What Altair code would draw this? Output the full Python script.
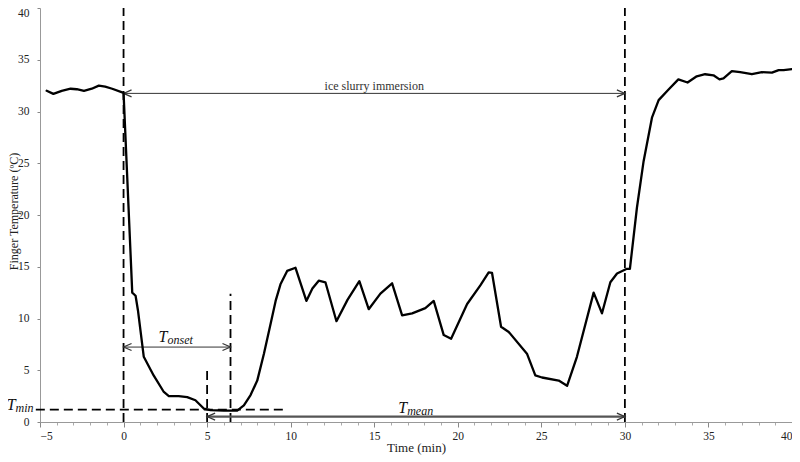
import altair as alt
import pandas as pd

# ---- finger temperature curve (time in min, temperature in degC) ----
time_min = [-4.6, -4.2, -3.7, -3.17, -2.8, -2.37, -1.9, -1.48, -1.1, -0.68, 0.0,
            0.52, 0.72, 0.86, 1.21, 1.8, 2.41, 2.71, 3.3, 3.81, 4.3, 4.8, 5.2,
            6.0, 6.8, 7.2, 7.6, 8.0, 8.4, 8.8, 9.1, 9.39, 9.79, 10.29, 10.94,
            11.3, 11.68, 12.08, 12.74, 13.4, 14.11, 14.67, 15.37, 16.07, 16.67,
            17.27, 18.06, 18.56, 19.16, 19.6, 20.56, 21.35, 21.85, 22.05, 22.59,
            23.05, 24.14, 24.64, 25.04, 26.04, 26.54, 27.13, 28.13, 28.63, 29.13,
            29.53, 30.12, 30.3, 30.72, 31.12, 31.62, 32.02, 32.6, 33.2, 33.75,
            34.3, 34.8, 35.3, 35.66, 35.9, 36.4, 36.9, 37.6, 38.2, 38.8, 39.2,
            39.5, 40.0]
finger_temp = [32.0, 31.7, 32.0, 32.2, 32.15, 32.0, 32.2, 32.5, 32.4, 32.2, 31.8,
               12.5, 12.2, 10.8, 6.3, 4.5, 2.9, 2.5, 2.5, 2.4, 2.1, 1.3, 1.15,
               1.1, 1.1, 1.6, 2.6, 4.0, 6.6, 9.5, 11.7, 13.3, 14.6, 14.9, 11.7,
               12.9, 13.65, 13.5, 9.74, 11.8, 13.6, 10.9, 12.4, 13.4, 10.3,
               10.5, 11.0, 11.7, 8.4, 8.05, 11.4, 13.2, 14.45, 14.4, 9.2,
               8.7, 6.6, 4.5, 4.3, 4.0, 3.5, 6.3, 12.5, 10.5, 13.5,
               14.35, 14.8, 14.8, 20.7, 25.2, 29.4, 31.1, 32.1, 33.1, 32.8,
               33.4, 33.6, 33.5, 33.1, 33.2, 33.9, 33.8, 33.6, 33.8, 33.75, 34.0,
               34.0, 34.1]

# ---- annotation values (data units) ----
dash_x1 = [0.0, 30.0, 6.4, 5.0, -5.25]
dash_x2 = [0.0, 30.0, 6.4, 5.0, 9.7]
dash_y1 = [0.0, 0.0, 0.0, 0.0, 1.2]
dash_y2 = [40.0, 40.0, 12.4, 5.3, 1.2]

arrow_names = ["ice", "onset", "mean"]
arrow_x1 = [0.0, 0.0, 5.0]
arrow_x2 = [30.0, 6.4, 30.0]
arrow_y = [31.75, 7.24, 0.52]

label_text = ["ice slurry immersion"]
label_x = [15.0]
label_y = [32.1]

sym_main = ["T", "T", "T"]
sym_sub = ["onset", "min", "mean"]
sym_x = [2.63, -6.46, 16.97]
sym_y = [7.75, 1.2, 0.9]

x_major = list(range(-5, 41, 5))
x_minor = list(range(-5, 41, 1))
y_ticks = list(range(0, 41, 5))

# ---- tables ----
curve = pd.DataFrame({"time": time_min, "temp": finger_temp})
dashes = pd.DataFrame({"x": dash_x1, "x2": dash_x2, "y": dash_y1, "y2": dash_y2})
arrows = pd.DataFrame({"name": arrow_names, "x": arrow_x1, "x2": arrow_x2, "y": arrow_y})
heads = pd.DataFrame({
    "x": arrow_x1 + arrow_x2,
    "y": arrow_y + arrow_y,
    "dir": ["left"] * 3 + ["right"] * 3,
})
labels = pd.DataFrame({"text": label_text, "x": label_x, "y": label_y})
syms = pd.DataFrame({"main": sym_main, "sub": sym_sub, "x": sym_x, "y": sym_y})

FONT = "Liberation Serif"
xscale = alt.Scale(domain=[-5, 40], nice=False, zero=False)
yscale = alt.Scale(domain=[0, 40], nice=False)

LEFT_HEAD = "M1.6,-0.7L0,0L1.6,0.7"
RIGHT_HEAD = "M-1.6,-0.7L0,0L-1.6,0.7"

major_x_axis = alt.Axis(values=x_major, title="Time (min)", grid=False,
                        tickSize=5, tickColor="#888", domainColor="#999",
                        labelFont=FONT, labelFontSize=11.5, labelColor="#222",
                        labelPadding=3, titleFont=FONT, titleFontSize=13,
                        titleFontWeight="normal", titleColor="#222",
                        titleBaseline="middle", titleY=25, orient="bottom")
minor_x_axis = alt.Axis(values=x_minor, title=None, grid=False, labels=False,
                        domain=False, tickSize=3, tickColor="#aaa", orient="bottom")
y_axis = alt.Axis(values=y_ticks, title="Finger Temperature (ºC)", grid=False,
                  tickSize=3, tickColor="#888", domainColor="#999",
                  labelFont=FONT, labelFontSize=11.5, labelColor="#222",
                  labelPadding=8,
                  labelOffset={"condition": {"test": "datum.value == 40", "value": 5},
                               "value": 0},
                  titleFont=FONT, titleFontSize=12,
                  titleFontWeight="normal", titleColor="#222",
                  titleBaseline="middle", titleX=-27, titleY=203, orient="left")

dash_layer = alt.Chart(dashes).mark_rule(
    color="black", strokeWidth=1.8, strokeDash=[9, 5]
).encode(
    x=alt.X("x:Q", scale=xscale, axis=minor_x_axis),
    x2="x2:Q",
    y=alt.Y("y:Q", scale=yscale, axis=None),
    y2="y2:Q",
)

thin_arrows = alt.Chart(arrows).transform_filter(
    alt.datum.name != "mean"
).mark_rule(color="#333", strokeWidth=1).encode(
    x=alt.X("x:Q", scale=xscale, axis=None),
    x2="x2:Q",
    y=alt.Y("y:Q", scale=yscale, axis=None),
)

mean_arrow = alt.Chart(arrows).transform_filter(
    alt.datum.name == "mean"
).mark_rule(color="#555", strokeWidth=2.4).encode(
    x=alt.X("x:Q", scale=xscale, axis=None),
    x2="x2:Q",
    y=alt.Y("y:Q", scale=yscale, axis=None),
)

head_layer = alt.Chart(heads).mark_point(
    filled=False, size=100, strokeWidth=1.2, color="#333", opacity=1
).encode(
    x=alt.X("x:Q", scale=xscale, axis=None),
    y=alt.Y("y:Q", scale=yscale, axis=None),
    shape=alt.Shape("dir:N", scale=alt.Scale(domain=["left", "right"],
                                             range=[LEFT_HEAD, RIGHT_HEAD]),
                    legend=None),
)

curve_layer = alt.Chart(curve).mark_line(
    color="black", strokeWidth=2.3, strokeJoin="round", strokeCap="round"
).encode(
    x=alt.X("time:Q", scale=xscale, axis=major_x_axis),
    y=alt.Y("temp:Q", scale=yscale, axis=y_axis),
    order="time:Q",
)

label_layer = alt.Chart(labels).mark_text(
    font=FONT, fontSize=12, color="#333", align="center", baseline="alphabetic"
).encode(
    x=alt.X("x:Q", scale=xscale, axis=None),
    y=alt.Y("y:Q", scale=yscale, axis=None),
    text="text:N",
)

sym_main_layer = alt.Chart(syms).mark_text(
    font=FONT, fontSize=16, fontStyle="italic", color="#111",
    align="right", baseline="alphabetic"
).encode(
    x=alt.X("x:Q", scale=xscale, axis=None),
    y=alt.Y("y:Q", scale=yscale, axis=None),
    text="main:N",
)

sym_sub_layer = alt.Chart(syms).mark_text(
    font=FONT, fontSize=12, fontStyle="italic", color="#111",
    align="left", baseline="alphabetic", dx=0, dy=2
).encode(
    x=alt.X("x:Q", scale=xscale, axis=None),
    y=alt.Y("y:Q", scale=yscale, axis=None),
    text="sub:N",
)

chart = alt.layer(
    dash_layer, thin_arrows, mean_arrow, head_layer, curve_layer,
    label_layer, sym_main_layer, sym_sub_layer
).resolve_axis(x="independent", y="independent").properties(
    width=752, height=414,
    autosize=alt.AutoSizeParams(type="none"),
    padding={"left": 32, "top": 0, "right": 0, "bottom": 40},
    background="white",
).configure_view(stroke=None).configure_axis(
    labelFont=FONT, titleFont=FONT
)

chart.save("out.html", embed_options={"renderer": "svg", "actions": False})
